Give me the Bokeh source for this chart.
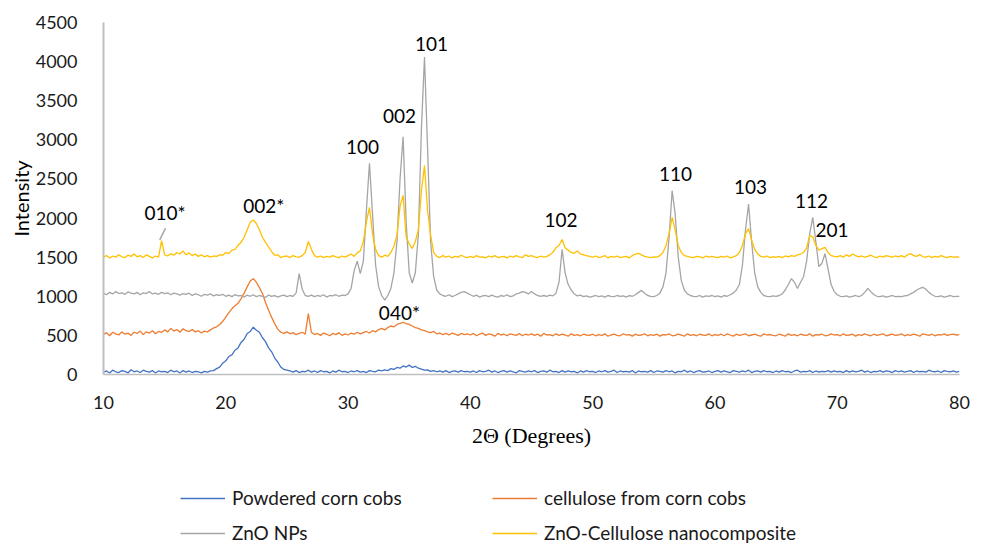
from bokeh.plotting import figure
from bokeh.models import Legend, LegendItem, FixedTicker, Range1d
from bokeh.layouts import column
from bokeh.core.properties import value
from bokeh.embed import file_html
from bokeh.resources import INLINE

# ---- data: XRD patterns sampled every 0.25 degree from 10 to 80 (2-theta) ----
TWO_THETA_START = 10.0
TWO_THETA_STEP = 0.25

powdered_corn_cobs = [
    30, 45, 20, 55, 35, 25, 50, 40, 20, 60, 35, 45, 25, 55, 40, 30, 50, 20, 45, 35,
    40, 25, 55, 35, 45, 20, 50, 30, 45, 25, 40, 35, 20, 40, 30, 45, 50, 75, 95, 145,
    175, 230, 250, 310, 340, 410, 450, 525, 550, 605, 565, 540, 470, 420, 340, 290, 210, 160, 95, 65,
    55, 45, 30, 50, 25, 40, 35, 55, 30, 45, 25, 50, 35, 40, 20, 45, 30, 55, 35, 40,
    25, 45, 35, 50, 30, 40, 25, 50, 40, 35, 55, 45, 60, 50, 75, 65, 90, 80, 110, 95,
    120, 90, 105, 80, 70, 55, 60, 40, 50, 35, 45, 30, 50, 25, 40, 45, 30, 50, 35, 40,
    30, 45, 25, 50, 35, 40, 55, 30, 45, 25, 40, 50, 30, 45, 35, 20, 50, 40, 30, 45,
    35, 50, 25, 40, 45, 30, 55, 35, 40, 25, 50, 30, 45, 35, 40, 20, 45, 30, 50, 35,
    40, 25, 45, 35, 50, 30, 40, 55, 25, 45, 35, 40, 30, 50, 20, 45, 35, 40, 30, 50,
    25, 45, 40, 30, 50, 35, 45, 20, 40, 35, 55, 30, 45, 25, 40, 50, 30, 35, 45, 25,
    40, 50, 30, 45, 35, 25, 50, 40, 30, 45, 35, 55, 25, 40, 45, 30, 50, 35, 40, 25,
    45, 30, 50, 35, 40, 25, 45, 55, 30, 40, 35, 50, 25, 45, 30, 40, 35, 50, 30, 45,
    35, 40, 25, 50, 30, 45, 35, 40, 55, 30, 45, 25, 40, 35, 50, 30, 45, 40, 25, 50,
    35, 45, 30, 40, 50, 25, 45, 35, 40, 30, 55, 40, 35, 45, 25, 50, 40, 35, 45, 30,
    40,
]

cellulose_from_corn_cobs = [
    510, 535, 495, 540, 520, 505, 545, 515, 530, 500, 540, 525, 555, 510, 545, 530, 560, 520, 550, 540,
    570, 545, 590, 555, 575, 540, 585, 560, 550, 575, 545, 560, 530, 555, 545, 570, 595, 610, 640, 680,
    735, 790, 840, 880, 910, 970, 1040, 1120, 1195, 1225, 1180, 1110, 1035, 920, 820, 730, 650, 580, 540, 525,
    545, 520, 535, 510, 525, 540, 515, 780, 540, 510, 525, 500, 530, 515, 495, 525, 510, 535, 500, 520,
    505, 530, 515, 540, 520, 535, 550, 530, 560, 545, 575, 590, 570, 600, 620, 610, 640, 655, 665, 650,
    640, 620, 600, 590, 570, 560, 545, 535, 550, 520, 530, 510, 525, 505, 530, 515, 500, 525, 510, 520,
    505, 525, 495, 515, 530, 500, 520, 510, 490, 525, 505, 515, 495, 520, 510, 500, 525, 495, 515, 505,
    520, 500, 515, 490, 525, 505, 510, 495, 520, 500, 515, 505, 490, 520, 500, 510, 495, 515, 505, 500,
    515, 495, 510, 500, 520, 490, 505, 515, 500, 495, 520, 505, 510, 490, 515, 500, 505, 520, 495, 510,
    500, 515, 490, 510, 505, 520, 495, 500, 515, 505, 490, 520, 500, 510, 495, 515, 505, 500, 520, 495,
    510, 500, 515, 495, 520, 505, 490, 515, 500, 510, 520, 495, 505, 515, 500, 490, 520, 505, 510, 500,
    495, 515, 505, 490, 520, 500, 510, 495, 515, 505, 500, 520, 490, 510, 505, 515, 495, 500, 520, 505,
    510, 495, 520, 500, 505, 515, 490, 510, 500, 520, 505, 495, 515, 500, 510, 520, 495, 505, 515, 500,
    505, 520, 495, 510, 500, 515, 505, 490, 520, 510, 500, 515, 495, 510, 505, 520, 500, 510, 515, 505,
    510,
]

zno_nps = [
    1040, 1020, 1050, 1030, 1060, 1035, 1045, 1025, 1055, 1040, 1030, 1050, 1020, 1045, 1035, 1060, 1030, 1040, 1025, 1050,
    1035, 1045, 1020, 1040, 1030, 1015, 1035, 1025, 1040, 1010, 1030, 1020, 1000, 1025, 1015, 1030, 1005, 1020, 1010, 1025,
    1000, 1015, 995, 1020, 1005, 1010, 990, 1015, 1000, 1020, 995, 1010, 1000, 985, 1015, 1000, 1010, 990, 1005, 1015,
    995, 1010, 1000, 1040, 1290, 1090, 1010, 1000, 1015, 995, 1010, 1000, 1020, 990, 1010, 1005, 1020, 1000, 1015, 1010,
    1030, 1100, 1330, 1450, 1290, 1450, 2100, 2700, 2050, 1400, 1120, 1010, 950, 1010, 1100, 1300, 1700, 2500, 3040, 1950,
    1300, 1170, 1300, 1800, 3150, 4060, 2900, 1700, 1250, 1080, 1030, 1010, 1000, 1020, 995, 1010, 1030, 1050, 1060, 1040,
    1020, 1000, 1015, 990, 1005, 1010, 995, 1015, 1000, 990, 1010, 1000, 1020, 995, 1005, 1030, 1040, 1060, 1050, 1030,
    1060, 1030, 1010, 1000, 1010, 1000, 1015, 1005, 1040, 1180, 1600, 1300, 1150, 1080, 1030, 1005, 1015, 995, 1005, 990,
    1000, 1010, 995, 1005, 990, 1010, 1000, 995, 1010, 1000, 1005, 990, 1010, 1000, 1020, 1050, 1075, 1040, 1010, 1000,
    995, 1010, 1040, 1120, 1300, 1750, 2350, 2050, 1500, 1200, 1080, 1030, 1010, 1000, 995, 1010, 990, 1005, 1000, 1010,
    995, 1005, 990, 1010, 1000, 1020, 1040, 1080, 1150, 1400, 1850, 2180, 1700, 1300, 1120, 1050, 1010, 1000, 995, 1005,
    1000, 1010, 1030, 1080, 1150, 1225, 1180, 1100, 1180, 1250, 1450, 1800, 2010, 1700, 1380, 1420, 1545, 1350, 1150, 1060,
    1020, 1000, 995, 1005, 990, 1000, 1010, 995, 1010, 1050, 1100, 1060, 1020, 1000, 995, 1005, 990, 1000, 1010, 995,
    1000, 995, 1005, 1010, 1030, 1050, 1080, 1100, 1115, 1090, 1050, 1020, 1000, 995, 1005, 990, 1000, 1010, 995, 1000,
    1000,
]

zno_cellulose = [
    1500, 1520, 1490, 1515, 1500, 1530, 1505, 1495, 1525, 1510, 1540, 1505, 1520, 1495, 1530, 1510, 1490, 1515, 1500, 1710,
    1530, 1515, 1545, 1525, 1560, 1540, 1580, 1530, 1555, 1520, 1540, 1510, 1530, 1505, 1520, 1500, 1515, 1510, 1530, 1525,
    1560, 1545, 1590, 1600, 1650, 1690, 1755, 1850, 1945, 1975, 1930, 1850, 1755, 1690, 1630, 1570, 1525, 1530, 1495, 1510,
    1515, 1495, 1520, 1505, 1500, 1520, 1560, 1700, 1600, 1520, 1500, 1515, 1495, 1510, 1500, 1520, 1505, 1495, 1515, 1500,
    1520, 1540, 1510, 1555, 1580, 1700, 1950, 2135, 1800, 1600, 1520, 1500, 1525, 1510, 1560, 1640, 1780, 2150, 2290, 1760,
    1670, 1610, 1700, 1850, 2350, 2670, 2100, 1780, 1560, 1510, 1495, 1520, 1500, 1515, 1490, 1510, 1500, 1525, 1505, 1495,
    1510, 1495, 1520, 1500, 1505, 1490, 1515, 1500, 1520, 1495, 1505, 1510, 1490, 1515, 1500, 1520, 1505, 1495, 1530, 1510,
    1520, 1505, 1495, 1515, 1500, 1510, 1530, 1560, 1620, 1650, 1725, 1620, 1590, 1560, 1550, 1580, 1540, 1530, 1520, 1510,
    1500, 1515, 1495, 1505, 1520, 1490, 1510, 1500, 1515, 1495, 1505, 1510, 1490, 1520, 1540, 1550, 1530, 1510, 1500, 1495,
    1505, 1500, 1520, 1560, 1650, 1800, 2010, 1850, 1650, 1560, 1520, 1510, 1500, 1495, 1510, 1505, 1490, 1515, 1500, 1510,
    1500, 1495, 1510, 1500, 1515, 1490, 1505, 1520, 1560, 1650, 1800, 1865, 1720, 1600, 1540, 1510, 1500, 1515, 1495, 1505,
    1500, 1510, 1495, 1515, 1505, 1520, 1510, 1530, 1540, 1560, 1620, 1775, 1760, 1650, 1590, 1610, 1625, 1560, 1520, 1510,
    1505, 1520, 1500, 1530, 1510, 1540, 1520, 1505, 1515, 1500, 1510, 1525, 1505, 1495, 1515, 1500, 1520, 1510, 1500, 1515,
    1505, 1520, 1500, 1530, 1545, 1520, 1510, 1535, 1505, 1500, 1515, 1495, 1510, 1500, 1520, 1505, 1495, 1510, 1500, 1505,
    1500,
]

series_names = ["Powdered corn cobs", "cellulose from corn cobs", "ZnO NPs", "ZnO-Cellulose nanocomposite"]
series_values = [powdered_corn_cobs, cellulose_from_corn_cobs, zno_nps, zno_cellulose]
series_colors = ["#4472C4", "#ED7D31", "#A5A5A5", "#FFC000"]

peak_labels = ["010*", "002*", "100", "002", "101", "040*", "102", "110", "103", "112", "201"]
x_ticks = [10, 20, 30, 40, 50, 60, 70, 80]
y_ticks = [0, 500, 1000, 1500, 2000, 2500, 3000, 3500, 4000, 4500]

# label placement (layout)
label_x = [15.03, 23.11, 31.18, 34.2, 36.82, 34.2, 47.41, 56.77, 62.91, 67.9, 69.57]
label_y = [2077, 2161, 2902, 3311, 4219, 799, 1969, 2563, 2397, 2218, 1841]

n = len(powdered_corn_cobs)
two_theta = [TWO_THETA_START + TWO_THETA_STEP * i for i in range(n)]

FONT = "Lato"
W = 982
H_MAIN = 460
H_LEG = 84

p = figure(width=W, height=H_MAIN, x_range=Range1d(10, 80), y_range=Range1d(0, 4500),
           output_backend="svg", toolbar_location=None,
           min_border_left=103, min_border_right=23, min_border_top=22, min_border_bottom=86)
p.outline_line_color = None
p.xgrid.grid_line_color = None
p.ygrid.grid_line_color = None

for ax in (p.xaxis[0], p.yaxis[0]):
    ax.major_tick_line_color = None
    ax.minor_tick_line_color = None
    ax.major_label_text_font = FONT
    ax.major_label_text_font_size = "18px"
    ax.major_label_text_color = "#1a1a1a"
    ax.axis_line_color = "#BFBFBF"

p.xaxis.ticker = FixedTicker(ticks=x_ticks)
p.yaxis.ticker = FixedTicker(ticks=y_ticks)
p.xaxis.axis_line_width = 1.5
p.yaxis.axis_line_width = 2
p.xaxis.major_label_standoff = 15
p.yaxis.major_label_standoff = 20

p.xaxis.axis_label = "2Θ (Degrees)"
p.xaxis.axis_label_text_font = "Liberation Serif"
p.xaxis.axis_label_text_font_size = "22px"
p.xaxis.axis_label_text_font_style = "normal"
p.xaxis.axis_label_text_color = "#000000"
p.xaxis.axis_label_standoff = 11

p.yaxis.axis_label = "Intensity"
p.yaxis.axis_label_text_font = FONT
p.yaxis.axis_label_text_font_size = "20px"
p.yaxis.axis_label_text_font_style = "normal"
p.yaxis.axis_label_text_color = "#000000"
p.yaxis.axis_label_standoff = 0

for name, vals, col in zip(series_names, series_values, series_colors):
    p.line(two_theta, vals, line_color=col, line_width=1.3)

# leader line for 010*
p.segment(x0=[14.6], y0=[1722], x1=[15.07], y1=[1870], line_color="#A5A5A5", line_width=1.5)

p.text(x=label_x, y=label_y, text=peak_labels, text_font=value(FONT), text_font_size="19px",
       text_align="center", text_baseline="middle", text_color="#000000")

# ---- legend strip below the chart (its frame is aligned with the chart frame) ----
leg = figure(width=W, height=H_LEG, x_range=Range1d(0, 1), y_range=Range1d(0, 1),
             output_backend="svg", toolbar_location=None,
             x_axis_location=None, y_axis_location=None,
             min_border_left=0, min_border_right=0, min_border_top=0, min_border_bottom=0)
leg.outline_line_color = None
leg.xgrid.grid_line_color = None
leg.ygrid.grid_line_color = None
# swatch renderers kept outside the visible range; only their legend glyphs show
leg_renderers = {nm: leg.line([-2, -1], [-2, -1], line_color=col, line_width=1.3)
                 for nm, col in zip(series_names, series_colors)}

# column-major fill: column 1 = items 0,2 ; column 2 = items 1,3 -> rows read left to right
order = [series_names[0], series_names[2], series_names[1], series_names[3]]
legend = Legend(items=[LegendItem(label=nm, renderers=[leg_renderers[nm]]) for nm in order],
                ncols=2, location=(77, 0), glyph_width=45, glyph_height=20, label_standoff=7,
                label_width=248, spacing=12, padding=0, margin=0,
                border_line_color=None, background_fill_alpha=0,
                label_text_font=FONT, label_text_font_size="19px", label_text_color="#1a1a1a")
leg.add_layout(legend, "center")

layout = column(p, leg, spacing=0)
open("out.html", "w").write(file_html(layout, INLINE))
